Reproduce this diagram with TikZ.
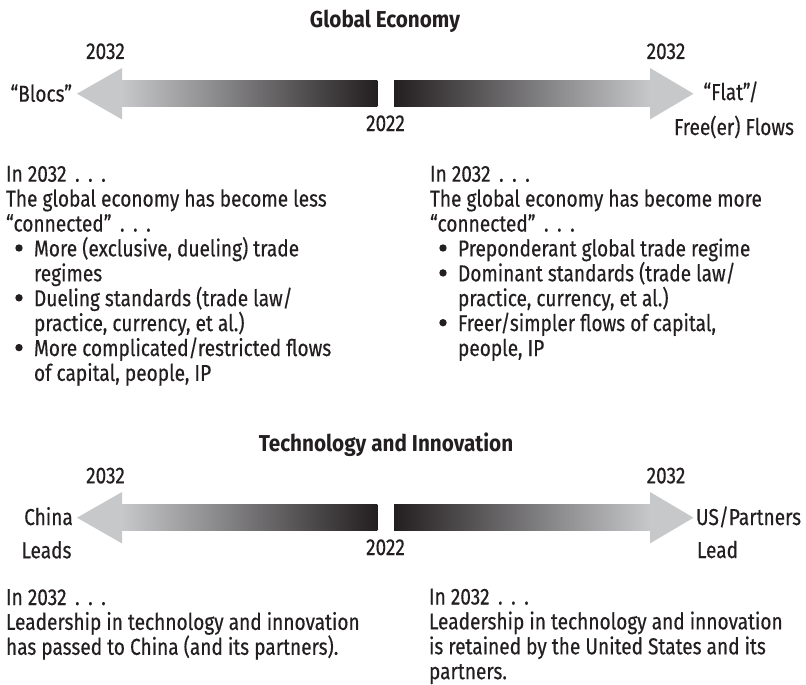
\documentclass[tikz,border=0pt]{standalone}
\usepackage{fontspec}
\setmainfont{Fira Sans}[FakeStretch=0.83, FakeBold=0.35]
\newfontfamily\ttlfont{Fira Sans Bold}[FakeStretch=0.9]
\definecolor{lgray}{RGB}{199,200,202}
\definecolor{dgray}{RGB}{35,31,32}
\newcommand{\blines}[1]{\vtop{\baselineskip=24.9pt\lineskiplimit=-50pt\lineskip=0pt #1}}
\newcommand{\bline}[1]{\hbox{#1}}
\newcommand{\bcont}[1]{\hbox{\hskip 28pt #1}}
\newcommand{\sdots}{\hskip 8.5pt.\hskip 8.5pt.\hskip 8.5pt.}
\tikzset{
  txt/.style={inner sep=0pt, outer sep=0pt, font=\fontsize{23}{24.9}\selectfont, text=dgray},
  ttl/.style={txt, font=\fontsize{23}{24.9}\selectfont\ttlfont},
  lightfill/.style={fill=lgray},
  bulletdot/.style={circle, fill=dgray, inner sep=0pt, minimum size=7.4pt},
}
\begin{document}
\begin{tikzpicture}[x=1pt,y=-1pt]
\useasboundingbox (0,0) rectangle (806,685);
% arrows
\foreach \dy in {0,424}{
  \begin{scope}[shift={(0,\dy)}]
    \shade[left color=lgray, right color=dgray] (121.5,80.7) rectangle (377.3,106.7);
    \fill[lightfill] (77,93.7) -- (122,68) -- (122,119.4) -- cycle;
    \shade[left color=dgray, right color=lgray] (394,80.7) rectangle (650.5,106.7);
    \fill[lightfill] (693.5,93.7) -- (650,68) -- (650,119.4) -- cycle;
  \end{scope}
}
% top section
\node[ttl, anchor=base] (t1) at (385,27.7) {Global Economy};
\node[txt, anchor=base] (ya1) at (105.5,59) {2032};
\node[txt, anchor=base] (yb1) at (666,59) {2032};
\node[txt, anchor=base east] (blocs) at (72,101.7) {“Blocs”};
\node[txt, anchor=base] (now1) at (385.5,131) {2022};
\node[txt, anchor=base] (flat) at (731,100) {“Flat”/};
\node[txt, anchor=base] (free) at (734,135) {Free(er) Flows};
\node[txt, anchor=base west] (bodyL1) at (6,181.7) {\blines{%
  \bline{In 2032\sdots}%
  \bline{The global economy has become less}%
  \bline{“connected”\sdots}%
  \bcont{More (exclusive, dueling) trade}%
  \bcont{regimes}%
  \bcont{Dueling standards (trade law/}%
  \bcont{practice, currency, et al.)}%
  \bcont{More complicated/restricted flows}%
  \bcont{of capital, people, IP}}};
\node[bulletdot] (bl1) at (19,248) {};
\node[bulletdot] (bl2) at (19,297.8) {};
\node[bulletdot] (bl3) at (19,347.6) {};
\node[txt, anchor=base west] (bodyR1) at (430,181.7) {\blines{%
  \bline{In 2032\sdots}%
  \bline{The global economy has become more}%
  \bline{“connected”\sdots}%
  \bcont{Preponderant global trade regime}%
  \bcont{Dominant standards (trade law/}%
  \bcont{practice, currency, et al.)}%
  \bcont{Freer/simpler flows of capital,}%
  \bcont{people, IP}}};
\node[bulletdot] (br1) at (443,248) {};
\node[bulletdot] (br2) at (443,272.9) {};
\node[bulletdot] (br3) at (443,322.7) {};
% bottom section
\node[ttl, anchor=base] (t2) at (386,451.7) {Technology and Innovation};
\node[txt, anchor=base] (ya2) at (105.5,483.3) {2032};
\node[txt, anchor=base] (yb2) at (666,483.3) {2032};
\node[txt, anchor=base] (china) at (48.5,525) {China};
\node[txt, anchor=base] (leads) at (46.5,558.3) {Leads};
\node[txt, anchor=base] (now2) at (385.5,555) {2022};
\node[txt, anchor=base west] (us) at (696,525) {US/Partners};
\node[txt, anchor=base west] (lead) at (697,558) {Lead};
\node[txt, anchor=base west] (bodyL2) at (6,605) {\blines{%
  \bline{In 2032\sdots}%
  \bline{Leadership in technology and innovation}%
  \bline{has passed to China (and its partners).}}};
\node[txt, anchor=base west] (bodyR2) at (429,604.5) {\blines{%
  \bline{In 2032\sdots}%
  \bline{Leadership in technology and innovation}%
  \bline{is retained by the United States and its}%
  \bline{partners.}}};
\end{tikzpicture}
\end{document}
